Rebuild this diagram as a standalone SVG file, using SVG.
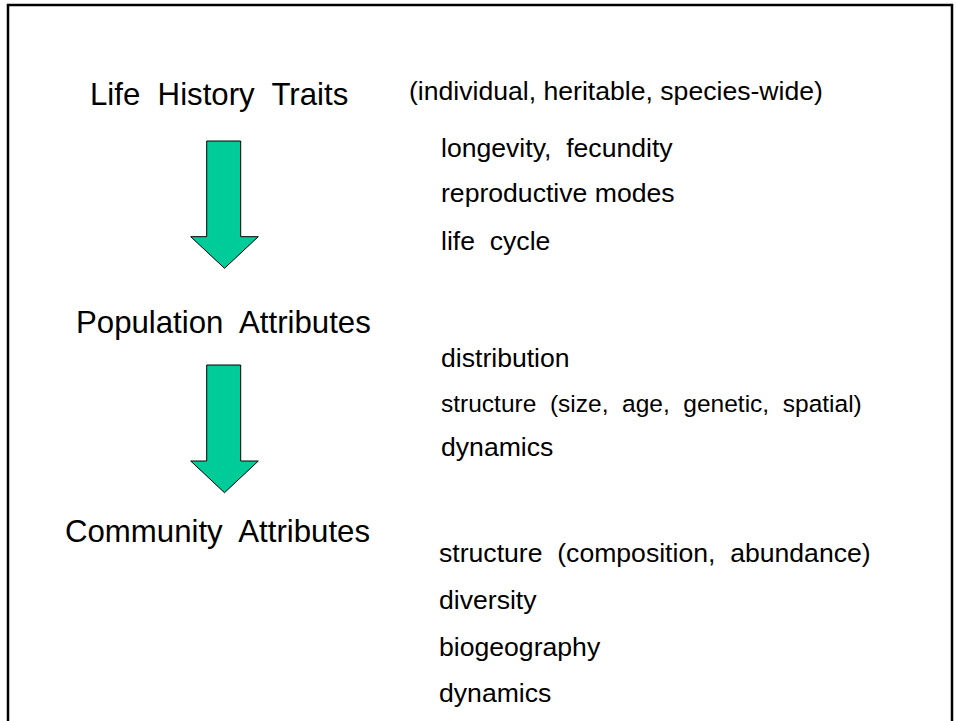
<svg xmlns="http://www.w3.org/2000/svg" width="957" height="721" viewBox="0 0 957 721">
<style>
text{font-family:"Liberation Sans",Arial,sans-serif;fill:#000;white-space:pre}
.h{font-size:31.2px}
.i{font-size:26.6px}
.s{font-size:24.5px}
.arrow{fill:#00CC99;stroke:#000;stroke-width:1}
</style>
<rect width="957" height="721" fill="#fff"/>
<path d="M8,721 V5 H952 V721" fill="none" stroke="#000" stroke-width="2.5"/>
<g id="life-history">
<text class="h" x="90" y="105" xml:space="preserve">Life  History  Traits</text>
<text class="i" x="409" y="100">(individual, heritable, species-wide)</text>
<text class="i" x="441" y="157" xml:space="preserve">longevity,  fecundity</text>
<text class="i" x="441" y="202">reproductive modes</text>
<text class="i" x="441" y="250" xml:space="preserve">life  cycle</text>
</g>
<g id="population">
<text class="h" x="76" y="333" xml:space="preserve">Population  Attributes</text>
<text class="i" x="441" y="367">distribution</text>
<text class="s" x="441" y="412" xml:space="preserve">structure  (size,  age,  genetic,  spatial)</text>
<text class="i" x="441" y="456">dynamics</text>
</g>
<g id="community">
<text class="h" x="65" y="542" xml:space="preserve">Community  Attributes</text>
<text class="i" x="439" y="562" xml:space="preserve">structure  (composition,  abundance)</text>
<text class="i" x="439" y="609">diversity</text>
<text class="i" x="439" y="656">biogeography</text>
<text class="i" x="439" y="702">dynamics</text>
</g>
<g id="connectors">
<polygon class="arrow" points="206.7,141 240.7,141 240.7,236.7 258.3,236.7 224.5,268.3 190.7,236.7 206.7,236.7"/>
<polygon class="arrow" points="206.7,365 240.7,365 240.7,461 258.3,461 224.5,492.7 190.7,461 206.7,461"/>
</g>
</svg>
